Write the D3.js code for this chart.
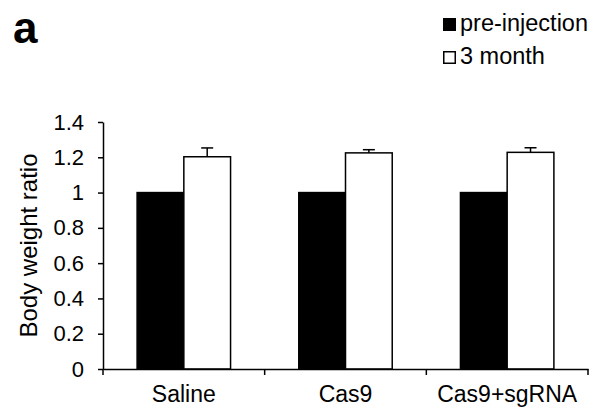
<!DOCTYPE html>
<html>
<head>
<meta charset="utf-8">
<script src="https://cdn.jsdelivr.net/npm/d3@7"></script>
<style>
  body { margin: 0; background: #fff; }
  text { font-family: Arial, "Liberation Sans", sans-serif; }
</style>
</head>
<body>
<div id="chart"></div>
<script>
const width = 593;
const height = 410;

// Data
const groups = ["Saline", "Cas9", "Cas9+sgRNA"];
const series = ["pre-injection", "3 month"];
const preInjection = [1, 1, 1];
const threeMonth = [1.203, 1.225, 1.228];
const threeMonthErr = [0.05, 0.018, 0.026];
const yTicks = [0, 0.2, 0.4, 0.6, 0.8, 1, 1.2, 1.4];

// Plot area
const margin = {top: 122, right: 5, bottom: 41, left: 103};
const plotW = width - margin.left - margin.right;
const plotH = height - margin.top - margin.bottom;

const svg = d3.select("#chart")
    .append("svg")
    .attr("width", width)
    .attr("height", height);

const g = svg.append("g")
    .attr("transform", `translate(${margin.left},${margin.top})`);

const x = d3.scaleBand()
    .domain(groups)
    .range([0, plotW])
    .paddingInner(0)
    .paddingOuter(0);

const inner = d3.scaleBand()
    .domain(series)
    .range([0, x.bandwidth()])
    .paddingOuter(0.73)
    .paddingInner(0);

const y = d3.scaleLinear()
    .domain([0, 1.4])
    .range([plotH, 0]);

const rows = groups.map((grp, i) => ({
    group: grp,
    values: [
        {key: series[0], value: preInjection[i], err: 0},
        {key: series[1], value: threeMonth[i], err: threeMonthErr[i]}
    ]
}));

// Bars
const grp = g.selectAll(".grp")
    .data(rows)
    .enter()
    .append("g")
    .attr("class", "grp")
    .attr("transform", d => `translate(${x(d.group)},0)`);

grp.selectAll("rect")
    .data(d => d.values)
    .enter()
    .append("rect")
    .attr("x", d => inner(d.key))
    .attr("y", d => y(d.value))
    .attr("width", inner.bandwidth())
    .attr("height", d => plotH - y(d.value))
    .attr("fill", d => d.key === series[0] ? "#000" : "#fff")
    .attr("stroke", "#000")
    .attr("stroke-width", 1.5);

// Error bars (upper only)
const errs = grp.selectAll(".err")
    .data(d => d.values.filter(v => v.err > 0))
    .enter()
    .append("g")
    .attr("class", "err");

errs.append("line")
    .attr("x1", d => inner(d.key) + inner.bandwidth() / 2)
    .attr("x2", d => inner(d.key) + inner.bandwidth() / 2)
    .attr("y1", d => y(d.value))
    .attr("y2", d => y(d.value + d.err))
    .attr("stroke", "#000")
    .attr("stroke-width", 1.5);

errs.append("line")
    .attr("x1", d => inner(d.key) + inner.bandwidth() / 2 - 6)
    .attr("x2", d => inner(d.key) + inner.bandwidth() / 2 + 6)
    .attr("y1", d => y(d.value + d.err))
    .attr("y2", d => y(d.value + d.err))
    .attr("stroke", "#000")
    .attr("stroke-width", 1.5);

// Y axis
const yAxis = g.append("g")
    .call(d3.axisLeft(y).tickValues(yTicks).tickFormat(d3.format("~g")).tickSize(5).tickSizeOuter(0));

// X axis with ticks at band edges
const xAxis = g.append("g")
    .attr("transform", `translate(0,${plotH})`)
    .call(d3.axisBottom(x).tickSize(0).tickPadding(17));

const edges = groups.map(d => x(d)).concat([plotW]);
xAxis.selectAll(".edge")
    .data(edges)
    .enter()
    .append("line")
    .attr("class", "edge")
    .attr("x1", d => d)
    .attr("x2", d => d)
    .attr("y1", 0)
    .attr("y2", 6)
    .attr("stroke", "#000")
    .attr("stroke-width", 1.5);

[yAxis, xAxis].forEach(ax => {
    ax.select(".domain").attr("stroke", "#000").attr("stroke-width", 1.5);
    ax.selectAll(".tick line").attr("stroke", "#000").attr("stroke-width", 1.5);
    ax.selectAll(".tick text")
        .attr("font-family", "Arial, 'Liberation Sans', sans-serif")
        .attr("fill", "#000");
});
yAxis.selectAll(".tick text").attr("font-size", 22).attr("x", -19);
xAxis.selectAll(".tick text").attr("font-size", 23);

// Y label
svg.append("text")
    .attr("transform", `translate(37,${margin.top + plotH / 2}) rotate(-90)`)
    .attr("text-anchor", "middle")
    .attr("font-size", 24)
    .text("Body weight ratio");

// Panel letter
svg.append("text")
    .attr("x", 13)
    .attr("y", 43)
    .attr("font-size", 44)
    .attr("font-weight", "bold")
    .text("a");

// Legend
const legend = svg.append("g")
    .attr("transform", "translate(443,18)");

const li = legend.selectAll(".li")
    .data(series)
    .enter()
    .append("g")
    .attr("class", "li")
    .attr("transform", (d, i) => `translate(0,${i * 33})`);

li.append("rect")
    .attr("x", 0.75)
    .attr("y", 0.75)
    .attr("width", 11.5)
    .attr("height", 11.5)
    .attr("fill", (d, i) => i === 0 ? "#000" : "#fff")
    .attr("stroke", "#000")
    .attr("stroke-width", 1.5);

li.append("text")
    .attr("x", 17)
    .attr("y", 13)
    .attr("font-size", 23.5)
    .text(d => d);
</script>
</body>
</html>
